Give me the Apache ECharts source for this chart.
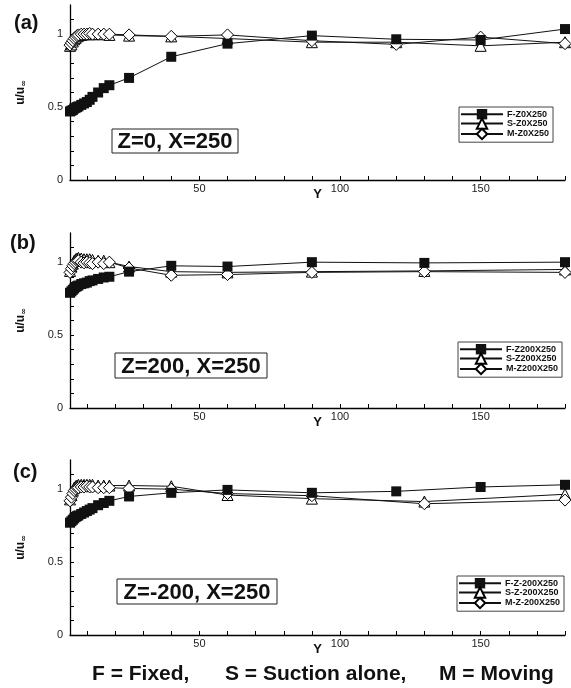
<!DOCTYPE html>
<html>
<head>
<meta charset="utf-8">
<script src="https://cdn.jsdelivr.net/npm/echarts@6/dist/echarts.min.js"></script>
<style>
  html, body { margin: 0; padding: 0; background: #fff; }
  #main { width: 571px; height: 688px; }
</style>
</head>
<body>
<div id="main"></div>
<script>
// Y positions (wall-normal) for each panel
var yA = [4, 4.5, 5, 5.5, 6, 6.5, 7, 8, 9, 10, 11, 12, 14, 16, 18, 25, 40, 60, 90, 120, 150, 180];
var yB = [4, 4.5, 5, 5.5, 6, 6.5, 7, 8, 9, 10, 11, 12, 14, 16, 18, 25, 40, 60, 90, 130, 180];
var yCF = [4, 4.5, 5, 5.5, 6, 6.5, 7, 8, 9, 10, 11, 12, 14, 16, 18, 25, 40, 60, 90, 120, 150, 180];
var yCSM = [4, 4.5, 5, 5.5, 6, 6.5, 7, 8, 9, 10, 11, 12, 14, 16, 18, 25, 40, 60, 90, 130, 180];

// u/u_inf, panel (a) Z=0
var fA = [0.47, 0.475, 0.48, 0.49, 0.495, 0.50, 0.505, 0.515, 0.525, 0.535, 0.55, 0.57, 0.60, 0.63, 0.65, 0.70, 0.845, 0.935, 0.99, 0.965, 0.96, 1.035];
var sA = [0.92, 0.93, 0.95, 0.965, 0.975, 0.985, 0.99, 0.995, 1.0, 1.0, 1.0, 1.0, 1.0, 1.0, 0.995, 0.99, 0.985, 0.97, 0.945, 0.945, 0.92, 0.945];
var mA = [0.925, 0.94, 0.955, 0.97, 0.98, 0.99, 0.995, 1.0, 1.0, 1.0, 1.005, 1.0, 1.0, 1.0, 1.0, 0.995, 0.985, 0.995, 0.955, 0.93, 0.98, 0.935];

// panel (b) Z=200
var fB = [0.79, 0.80, 0.81, 0.82, 0.83, 0.835, 0.84, 0.85, 0.855, 0.86, 0.87, 0.875, 0.885, 0.895, 0.90, 0.935, 0.975, 0.97, 1.0, 0.995, 1.0];
var sB = [0.94, 0.97, 0.99, 1.01, 1.02, 1.025, 1.03, 1.025, 1.02, 1.02, 1.02, 1.015, 1.01, 1.01, 1.0, 0.97, 0.935, 0.93, 0.935, 0.94, 0.95];
var mB = [0.93, 0.955, 0.975, 0.99, 1.0, 1.01, 1.01, 1.0, 0.995, 1.0, 0.995, 0.99, 1.0, 0.99, 1.0, 0.96, 0.91, 0.915, 0.93, 0.935, 0.93];

// panel (c) Z=-200
var fC = [0.77, 0.78, 0.79, 0.80, 0.81, 0.815, 0.82, 0.83, 0.84, 0.85, 0.86, 0.87, 0.89, 0.905, 0.92, 0.95, 0.975, 0.995, 0.975, 0.985, 1.015, 1.03];
var sC = [0.93, 0.96, 0.99, 1.01, 1.02, 1.025, 1.03, 1.03, 1.03, 1.03, 1.03, 1.03, 1.025, 1.025, 1.025, 1.025, 1.02, 0.96, 0.935, 0.915, 0.965];
var mC = [0.92, 0.945, 0.97, 0.99, 1.0, 1.01, 1.01, 1.015, 1.015, 1.02, 1.015, 1.015, 1.01, 1.01, 1.01, 1.005, 1.0, 0.97, 0.955, 0.9, 0.925];

var xTicks = [10, 20, 30, 40, 50, 60, 70, 80, 90, 100, 110, 120, 130, 140, 150, 160, 170, 180];
var xLabels = [50, 100, 150];
var yTicks = [0.1, 0.2, 0.3, 0.4, 0.5, 0.6, 0.7, 0.8, 0.9, 1.0, 1.1];
var yLabels = [0, 0.5, 1];

var FONT = "'Liberation Sans', Arial, sans-serif";
var myChart = echarts.init(document.getElementById('main'));

function pairs(xs, vs) {
    return xs.map(function (x, i) { return [x, vs[i]]; });
}

var gridTops = [5, 233, 460];
var grids = [], xAxes = [], yAxes = [], series = [], legends = [];
var legendTops = [107, 342, 576];
var legendLefts = [459, 458, 457];
var panelData = [
    {names: ['F-Z0X250', 'S-Z0X250', 'M-Z0X250'], f: pairs(yA, fA), s: pairs(yA, sA), m: pairs(yA, mA)},
    {names: ['F-Z200X250', 'S-Z200X250', 'M-Z200X250'], f: pairs(yB, fB), s: pairs(yB, sB), m: pairs(yB, mB)},
    {names: ['F-Z-200X250', 'S-Z-200X250', 'M-Z-200X250'], f: pairs(yCF, fC), s: pairs(yCSM, sC), m: pairs(yCSM, mC)}
];

for (var i = 0; i < 3; i++) {
    grids.push({left: 70, width: 495, top: gridTops[i], height: 175});
    xAxes.push({
        type: 'value', gridIndex: i, min: 4, max: 180,
        name: 'Y', nameLocation: 'middle', nameGap: 8, nameMoveOverlap: false,
        nameTextStyle: {fontFamily: FONT, fontWeight: 'bold', fontSize: 13, color: '#111'},
        axisLine: {lineStyle: {color: '#000', width: 1.3}},
        axisTick: {inside: true, length: 4, customValues: xTicks, lineStyle: {color: '#000'}},
        axisLabel: {customValues: xLabels, margin: 3, fontFamily: FONT, fontSize: 11, color: '#222'},
        splitLine: {show: false}
    });
    yAxes.push({
        type: 'value', gridIndex: i, min: 0, max: 1.2,
        name: 'u/u{s|∞}', nameLocation: 'middle', nameGap: 42, nameRotate: 90, nameMoveOverlap: false,
        nameTextStyle: {
            fontFamily: FONT, fontWeight: 'bold', fontSize: 12, color: '#111',
            rich: {s: {fontFamily: 'DejaVu Sans', fontWeight: 'bold', fontSize: 8, color: '#111', padding: [6, 0, 0, 0]}}
        },
        axisLine: {show: true, lineStyle: {color: '#000', width: 1.3}},
        axisTick: {show: true, inside: true, length: 4, customValues: yTicks, lineStyle: {color: '#000'}},
        axisLabel: {customValues: yLabels, margin: 7, fontFamily: FONT, fontSize: 11, color: '#222'},
        splitLine: {show: false}
    });
    var p = panelData[i];
    series.push({
        name: p.names[1], type: 'line', xAxisIndex: i, yAxisIndex: i, data: p.s,
        symbol: 'triangle', symbolSize: 11, clip: false, z: 2,
        lineStyle: {color: '#111', width: 1},
        itemStyle: {color: '#fff', borderColor: '#000', borderWidth: 1}
    });
    series.push({
        name: p.names[2], type: 'line', xAxisIndex: i, yAxisIndex: i, data: p.m,
        symbol: 'diamond', symbolSize: 12, clip: false, z: 3,
        lineStyle: {color: '#111', width: 1},
        itemStyle: {color: '#fff', borderColor: '#000', borderWidth: 1}
    });
    series.push({
        name: p.names[0], type: 'line', xAxisIndex: i, yAxisIndex: i, data: p.f,
        symbol: 'rect', symbolSize: 10, clip: false, z: 4,
        lineStyle: {color: '#111', width: 1},
        itemStyle: {color: '#111', borderColor: '#111', borderWidth: 0}
    });
    legends.push({
        data: p.names, orient: 'vertical', left: legendLefts[i], top: legendTops[i],
        itemWidth: 42, itemHeight: 13, itemGap: -2,
        padding: [2, 4, 2, 1], borderColor: '#444', borderWidth: 1,
        selectedMode: false,
        textStyle: {fontFamily: FONT, fontWeight: 'bold', fontSize: 9, color: '#111', padding: [0, 0, 0, -1]}
    });
}

function boxLabel(x, y, w, h, text) {
    return {
        type: 'group',
        children: [
            {type: 'rect', shape: {x: x, y: y, width: w, height: h},
             style: {fill: '#fff', stroke: '#222', lineWidth: 1}},
            {type: 'text', x: x + w / 2, y: y + h / 2 + 1,
             style: {text: text, font: 'bold 22px ' + FONT, fill: '#111', align: 'center', verticalAlign: 'middle'}}
        ]
    };
}

function plainText(x, y, text, size) {
    return {type: 'text', x: x, y: y,
            style: {text: text, font: 'bold ' + size + 'px ' + FONT, fill: '#111', verticalAlign: 'middle'}};
}

var option = {
    backgroundColor: '#fff',
    animation: false,
    grid: grids,
    xAxis: xAxes,
    yAxis: yAxes,
    legend: legends,
    series: series,
    graphic: [
        plainText(14, 23, '(a)', 20),
        plainText(10, 243, '(b)', 20),
        plainText(13, 472, '(c)', 20),
        boxLabel(112, 129, 126, 24, 'Z=0, X=250'),
        boxLabel(115, 353, 152, 25, 'Z=200, X=250'),
        boxLabel(117, 579, 160, 25, 'Z=-200, X=250'),
        plainText(92, 674, 'F = Fixed,', 21),
        plainText(225, 674, 'S = Suction alone,', 21),
        plainText(439, 674, 'M = Moving', 21)
    ]
};

myChart.setOption(option);
</script>
</body>
</html>
